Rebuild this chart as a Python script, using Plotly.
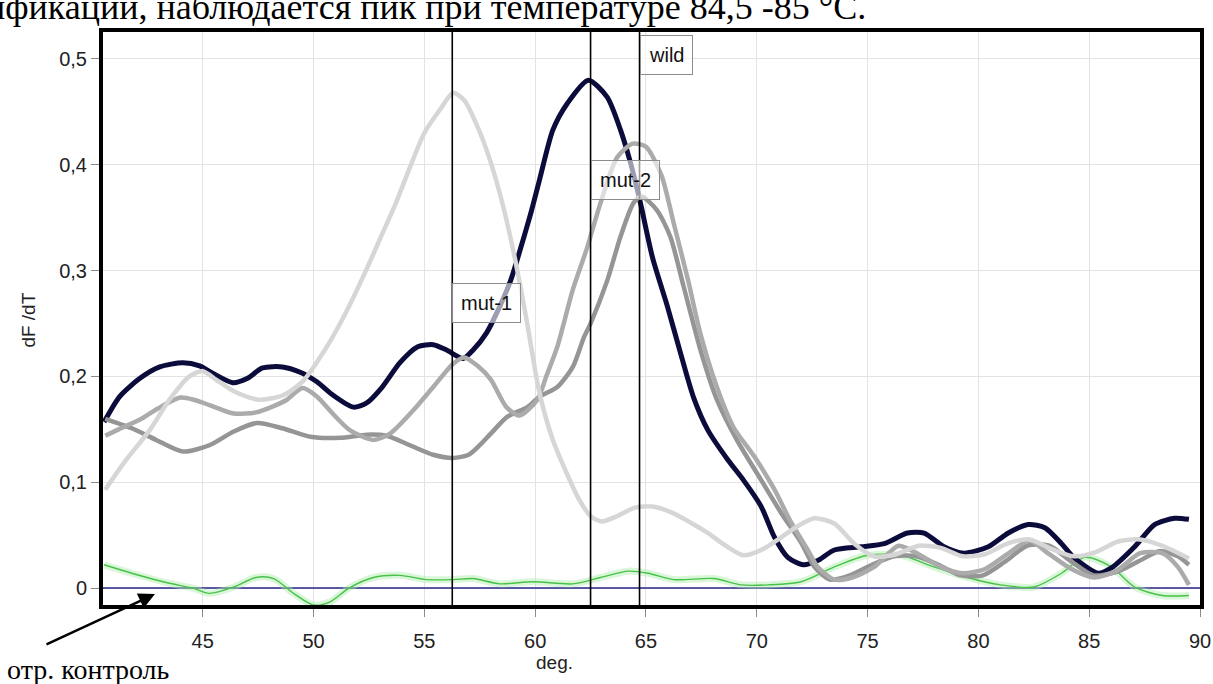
import plotly.graph_objects as go

# ---------------- data ----------------
dark_T = [40.55, 41.25, 42.15, 43.06, 44.1, 44.86, 45.45, 46.36, 47.0, 47.7, 48.6, 49.4, 50.15, 50.9, 51.8,
          52.4, 53.1, 53.9, 54.7, 55.4, 56.0, 56.75, 57.2, 57.8, 58.4, 58.9, 59.3, 59.8, 60.2, 60.8, 61.45,
          62.4, 63.25, 63.85, 64.3, 64.75, 65.3, 65.97, 66.56, 67.15, 67.8, 68.7, 69.4, 70.2, 70.8, 71.4,
          72.1, 72.75, 73.5, 74.7, 75.75, 76.8, 77.55, 78.45, 79.35, 80.45, 81.35, 82.25, 83.0, 83.75, 84.3,
          85.4, 86.0, 87.05, 87.95, 88.85, 89.5]
dark_v = [0.157, 0.181, 0.198, 0.209, 0.213, 0.21, 0.203, 0.194, 0.198, 0.208, 0.209, 0.204, 0.195, 0.182, 0.171,
          0.175, 0.19, 0.213, 0.228, 0.23, 0.225, 0.217, 0.225, 0.241, 0.266, 0.291, 0.318, 0.354, 0.386, 0.433, 0.458,
          0.48, 0.464, 0.433, 0.402, 0.364, 0.312, 0.266, 0.222, 0.18, 0.149, 0.121, 0.102, 0.077, 0.048, 0.029,
          0.022, 0.026, 0.036, 0.039, 0.042, 0.052, 0.052, 0.039, 0.033, 0.039, 0.052, 0.06, 0.057, 0.042, 0.029,
          0.014, 0.019, 0.039, 0.06, 0.066, 0.065]

light_T = [40.6, 41.5, 42.6, 43.5, 44.4, 45.0, 45.6, 46.4, 47.5, 48.6, 49.5, 50.2, 50.8, 51.5, 52.3, 53.0, 53.7,
           54.3, 55.0, 55.7, 56.3, 56.8, 57.4, 58.0, 58.6, 59.1, 59.6, 60.2, 60.8, 61.5, 62.0, 62.5, 63.0, 63.7,
           64.5, 65.3, 66.2, 67.0, 67.8, 68.6, 69.4, 70.2, 71.1, 71.8, 72.6, 73.5, 74.4, 75.3, 76.3, 77.3, 78.3,
           79.3, 80.3, 81.3, 82.3, 83.3, 84.3, 85.3, 86.3, 87.3, 88.3, 89.5]
light_v = [0.093, 0.12, 0.149, 0.178, 0.2, 0.205, 0.197, 0.186, 0.178, 0.182, 0.195, 0.215, 0.235, 0.262, 0.297,
           0.33, 0.363, 0.395, 0.43, 0.452, 0.468, 0.461, 0.436, 0.402, 0.357, 0.31, 0.255, 0.184, 0.14, 0.105,
           0.083, 0.068, 0.063, 0.068, 0.076, 0.077, 0.071, 0.062, 0.052, 0.04, 0.031, 0.036, 0.048, 0.058, 0.066,
           0.061, 0.042, 0.03, 0.032, 0.04, 0.038, 0.03, 0.032, 0.042, 0.046, 0.037, 0.03, 0.034, 0.044, 0.046,
           0.04, 0.028]

greyA_T = [40.6, 41.2, 42.15, 43.0, 44.0, 44.6, 45.3, 46.4, 47.4, 48.2, 48.8, 49.5, 50.15, 50.9, 51.65, 52.7,
           53.45, 54.5, 55.4, 56.3, 56.8, 57.4, 58.0, 58.7, 59.3, 60.1, 60.5, 61.0, 61.7, 62.35, 62.95, 63.7, 64.4,
           65.0, 65.7, 66.25, 66.9, 67.45, 68.2, 68.95, 69.9, 70.8, 71.5, 72.3, 72.75, 73.5, 74.3, 75.3, 76.4, 77.3,
           78.3, 79.3, 80.3, 81.5, 82.3, 83.2, 84.2, 85.2, 86.2, 87.3, 88.3, 89.0, 89.5]
greyA_v = [0.144, 0.15, 0.159, 0.17, 0.18, 0.178, 0.173, 0.165, 0.166, 0.172, 0.178, 0.189, 0.181, 0.164, 0.149,
           0.14, 0.146, 0.168, 0.19, 0.212, 0.218, 0.21, 0.197, 0.171, 0.163, 0.178, 0.2, 0.228, 0.282, 0.322,
           0.364, 0.407, 0.42, 0.417, 0.39, 0.345, 0.291, 0.241, 0.19, 0.152, 0.124, 0.093, 0.064, 0.036, 0.02,
           0.008, 0.01, 0.02, 0.04, 0.032, 0.02, 0.014, 0.018, 0.035, 0.045, 0.032, 0.018, 0.01, 0.016, 0.033,
           0.033, 0.02, 0.003]

greyB_T = [40.6, 41.8, 42.9, 44.1, 45.3, 46.4, 47.45, 48.6, 49.85, 51.2, 52.4, 53.3, 54.35, 55.4, 56.3, 57.0,
           57.5, 58.0, 58.75, 59.65, 60.2, 61.0, 61.7, 62.2, 62.5, 63.26, 63.85, 64.44, 64.8, 65.5, 66.1, 66.7,
           67.5, 68.2, 69.1, 70.2, 71.1, 72.0, 72.6, 73.3, 74.2, 75.2, 76.2, 77.2, 78.2, 79.2, 80.2, 81.2, 82.2,
           83.2, 84.2, 85.2, 86.2, 87.2, 88.2, 89.0, 89.5]
greyB_v = [0.16, 0.151, 0.14, 0.129, 0.135, 0.148, 0.156, 0.151, 0.143, 0.142, 0.145, 0.144, 0.135, 0.126, 0.123,
           0.126, 0.135, 0.146, 0.162, 0.171, 0.181, 0.19, 0.209, 0.237, 0.25, 0.291, 0.332, 0.364, 0.37, 0.357,
           0.332, 0.285, 0.222, 0.178, 0.14, 0.102, 0.071, 0.043, 0.02, 0.008, 0.012, 0.022, 0.03, 0.03, 0.022,
           0.012, 0.012, 0.025, 0.04, 0.04, 0.025, 0.012, 0.015, 0.025, 0.035, 0.03, 0.022]

green_T = [40.55, 41.8, 43.4, 44.55, 45.3, 46.4, 47.4, 48.2, 49.1, 50.0, 50.75, 51.6, 52.7, 53.9, 55.1, 56.3,
           57.2, 58.4, 59.9, 61.7, 62.95, 64.2, 65.1, 66.25, 68.05, 69.3, 70.5, 72.0, 73.5, 75.0, 76.5, 78.0,
           79.5, 81.0, 82.5, 83.75, 84.8, 86.0, 87.05, 88.3, 89.5]
green_v = [0.022, 0.014, 0.005, 0.0, -0.005, 0.001, 0.01, 0.009, -0.005, -0.016, -0.013, 0.0, 0.01, 0.012, 0.008,
           0.008, 0.009, 0.004, 0.006, 0.004, 0.01, 0.016, 0.014, 0.008, 0.009, 0.003, 0.003, 0.006, 0.02, 0.031,
           0.031, 0.02, 0.01, 0.003, 0.001, 0.014, 0.029, 0.02, 0.001, -0.007, -0.007]

zero_T = [40.5, 90.0]
zero_v = [0.0, 0.0]

marker_T = [56.26, 62.5, 64.71]
marker_names = ["mut-1", "mut-2", "wild"]
marker_label_v = [0.269, 0.386, 0.504]

x_tick_vals = [45, 50, 55, 60, 65, 70, 75, 80, 85, 90]
x_tick_text = ["45", "50", "55", "60", "65", "70", "75", "80", "85", "90"]
y_tick_vals = [0, 0.1, 0.2, 0.3, 0.4, 0.5]
y_tick_text = ["0", "0,1", "0,2", "0,3", "0,4", "0,5"]

# ---------------- figure ----------------
fig = go.Figure()

fig.add_trace(go.Scatter(x=zero_T, y=zero_v, mode="lines",
                         line=dict(color="#26268a", width=1.5), hoverinfo="skip"))
fig.add_trace(go.Scatter(x=green_T, y=green_v, mode="lines",
                         line=dict(color="rgba(170,235,170,0.45)", width=7, shape="spline", smoothing=0.8),
                         hoverinfo="skip"))
fig.add_trace(go.Scatter(x=green_T, y=green_v, mode="lines",
                         line=dict(color="#46c246", width=1.4, shape="spline", smoothing=0.8)))
fig.add_trace(go.Scatter(x=dark_T, y=dark_v, mode="lines",
                         line=dict(color="#0c0c3c", width=5, shape="spline", smoothing=0.7)))
fig.add_trace(go.Scatter(x=greyB_T, y=greyB_v, mode="lines",
                         line=dict(color="#959595", width=4.5, shape="spline", smoothing=0.7)))
fig.add_trace(go.Scatter(x=greyA_T, y=greyA_v, mode="lines",
                         line=dict(color="#ababab", width=4.5, shape="spline", smoothing=0.7)))
fig.add_trace(go.Scatter(x=light_T, y=light_v, mode="lines",
                         line=dict(color="#d6d6d6", width=4.5, shape="spline", smoothing=0.7)))

for t in marker_T:
    fig.add_shape(type="line", xref="x", yref="paper", x0=t, x1=t, y0=0, y1=1,
                  line=dict(color="black", width=1.6))

for t, name, v in zip(marker_T, marker_names, marker_label_v):
    fig.add_annotation(x=t, y=v, xref="x", yref="y", text=name, showarrow=False,
                       xanchor="left", yanchor="middle",
                       font=dict(family="Liberation Sans, Arial", size=20, color="#111"),
                       bgcolor="rgba(255,255,255,0.6)", bordercolor="#8c8c8c", borderwidth=1, borderpad=8)

# axis titles
fig.add_annotation(x=0.412, y=-0.101, xref="paper", yref="paper", text="deg.", showarrow=False,
                   xanchor="center", yanchor="middle",
                   font=dict(family="Liberation Sans, Arial", size=19, color="#222"))
fig.add_annotation(x=-0.068, y=0.497, xref="paper", yref="paper", text="dF /dT", showarrow=False,
                   textangle=-90, xanchor="center", yanchor="middle",
                   font=dict(family="Liberation Sans, Arial", size=19, color="#222"))

# cropped document text above the chart
fig.add_annotation(x=0.697, y=1.044, xref="paper", yref="paper",
                   text="амплификации, наблюдается пик при температуре 84,5 -85 °С.",
                   showarrow=False, xanchor="right", yanchor="middle",
                   font=dict(family="Liberation Serif, Times New Roman", size=36, color="black"))

# negative control label with arrow
fig.add_annotation(x=0.0474, y=0.0192, xref="paper", yref="paper", text="", showarrow=True,
                   ax=-110, ay=51, arrowhead=2, arrowsize=1.3, arrowwidth=2.5, arrowcolor="black")
fig.add_annotation(x=-0.0893, y=-0.113, xref="paper", yref="paper", text="отр. контроль",
                   showarrow=False, xanchor="left", yanchor="middle",
                   font=dict(family="Liberation Serif, Times New Roman", size=28, color="black"))

fig.update_layout(
    width=1213, height=684,
    margin=dict(l=103, r=13, t=32, b=79, autoexpand=False),
    paper_bgcolor="white", plot_bgcolor="white",
    showlegend=False,
    xaxis=dict(range=[40.5, 90], tickvals=x_tick_vals, ticktext=x_tick_text, automargin=False,
               showgrid=True, gridcolor="#e3e3e3", gridwidth=1, zeroline=False,
               showline=True, linecolor="black", linewidth=4, mirror=True,
               ticks="outside", ticklen=8, tickcolor="#8c8c8c", tickwidth=1, ticklabelstandoff=7,
               tickfont=dict(family="Liberation Sans, Arial", size=20, color="#222")),
    yaxis=dict(range=[-0.016, 0.5255], tickvals=y_tick_vals, ticktext=y_tick_text, automargin=False,
               showgrid=True, gridcolor="#e3e3e3", gridwidth=1, zeroline=False,
               showline=True, linecolor="black", linewidth=4, mirror=True,
               ticks="outside", ticklen=8, tickcolor="#8c8c8c", tickwidth=1,
               tickfont=dict(family="Liberation Sans, Arial", size=20, color="#222")),
)

fig.write_html("out.html", config={"displayModeBar": False},
               post_script="document.body.style.margin='0';")
